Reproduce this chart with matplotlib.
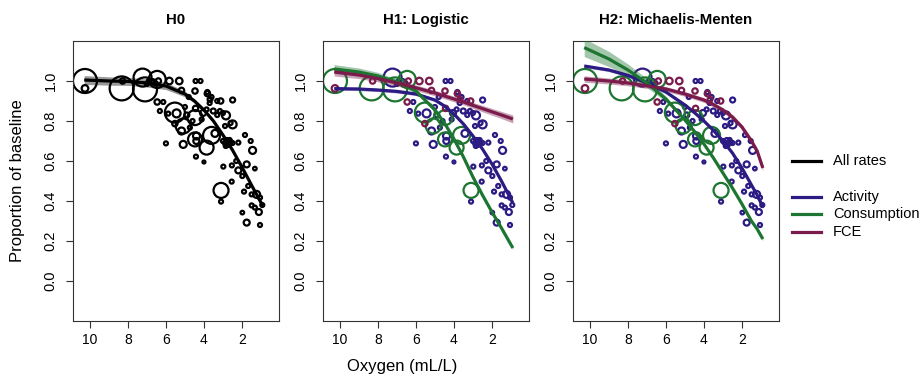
import numpy as np
import matplotlib
matplotlib.use("Agg")
import matplotlib.pyplot as plt
from matplotlib.lines import Line2D

plt.rcParams['font.family'] = ['Liberation Sans', 'DejaVu Sans']

# ── data ──
# Activity observations (oxygen, proportion, weight)
act_x = [7.23, 5.44, 5.18, 5.09, 4.39, 3.42, 2.84, 2.49, 2.49, 3.51, 1.44, 1.75, 2.19, 1.23,
         1.11, 1.75, 1.98, 1.32, 4.00, 4.40, 4.05, 4.90,
         6.90, 6.70, 6.55, 7.00, 4.44, 4.18, 3.82, 3.60, 3.30, 3.70, 3.86, 3.16, 4.12, 3.30,
         3.00, 5.88, 6.32, 6.14, 6.00, 4.74, 4.60, 5.00, 4.80, 4.42, 2.89, 2.60,
         3.00, 2.90, 2.80, 2.70, 2.60, 2.75, 2.85, 2.65, 2.50, 2.19, 1.84, 1.54,
         2.98, 2.53, 2.30, 1.98, 2.54, 3.10, 1.89, 1.67, 1.49, 1.05, 1.49, 1.32, 0.93, 1.05]
act_y = [1.017, 0.838, 0.750, 0.683, 0.725, 0.738, 0.828, 0.783, 0.905, 0.850, 0.653, 0.583,
         0.553, 0.433, 0.345, 0.292, 0.342, 0.562, 0.595, 0.700, 0.840, 0.830,
         1.000, 1.000, 0.990, 0.985, 1.000, 1.000, 0.945, 0.920, 0.900, 0.890, 0.858, 0.850,
         0.808, 0.830, 0.840, 0.837, 0.850, 0.895, 0.688, 0.767, 0.800, 0.870, 0.920, 0.622,
         0.775, 0.790,
         0.700, 0.690, 0.705, 0.690, 0.695, 0.680, 0.675, 0.705, 0.690, 0.692, 0.730, 0.700,
         0.572, 0.578, 0.600, 0.525, 0.497, 0.397, 0.447, 0.475, 0.433, 0.417, 0.378, 0.367,
         0.380, 0.280]
act_w = [9, 4, 3.5, 3.5, 3.5, 3.5, 4, 4, 2.5, 2.5, 3.5, 3, 3, 3.5,
         3, 3, 1.8, 1.8, 1.5, 3, 3, 2.5,
         2, 2, 2, 2, 2, 2, 2, 2, 2, 2, 2, 2, 2, 2,
         2, 2, 2, 2, 2, 2, 2, 2, 2, 2, 2, 2,
         2, 2, 2, 2, 2, 2, 2, 2, 2, 2, 2, 2,
         2, 2, 2, 2, 2, 2, 2, 2, 2, 2, 2, 2, 2, 2]

# Consumption observations
con_x = [10.26, 8.33, 7.10, 6.46, 5.53, 5.09, 4.47, 4.47, 3.60, 3.86, 3.10]
con_y = [1.000, 0.963, 0.958, 1.008, 0.842, 0.775, 0.817, 0.708, 0.728, 0.667, 0.453]
con_w = [12, 12, 12, 8.5, 10, 7.5, 7.5, 7, 8.5, 7, 7.5]

# FCE observations
fce_x = [10.26, 8.28, 6.40, 5.82, 5.30, 5.18, 4.47, 3.82, 3.68, 3.12, 6.46, 4.44, 5.53]
fce_y = [0.963, 1.000, 1.000, 1.000, 1.000, 0.953, 0.950, 0.937, 0.908, 0.900, 0.895,
         0.863, 0.787]
fce_w = [3.3, 2.7, 2.7, 3.3, 3.3, 2.7, 2.7, 2.7, 2.4, 2.7, 2.7, 2.7, 2.7]

# fitted curves (oxygen grid, fit, half-width of CI)
h0_x = [10.3, 9, 8, 7, 6, 5, 4.5, 4, 3.5, 3, 2.5, 2, 1.5, 0.9]
h0_y = [1.005, 1.0, 0.998, 0.99, 0.975, 0.935, 0.9, 0.855, 0.8, 0.73, 0.655, 0.57, 0.48, 0.375]
h0_ci = [0.022, 0.021, 0.02, 0.02, 0.018, 0.014, 0.01, 0.008, 0.006, 0.005, 0.005, 0.006, 0.007, 0.008]

h1_x = [10.3, 9, 8, 7, 6, 5, 4.5, 4, 3.5, 3, 2.5, 2, 1.5, 0.9]
h1_act = [0.962, 0.96, 0.955, 0.948, 0.935, 0.905, 0.875, 0.835, 0.785, 0.725, 0.66, 0.585, 0.5, 0.39]
h1_con = [1.06, 1.045, 1.025, 0.995, 0.95, 0.855, 0.79, 0.71, 0.62, 0.52, 0.43, 0.345, 0.265, 0.165]
h1_fce = [1.045, 1.03, 1.012, 0.99, 0.966, 0.94, 0.925, 0.91, 0.895, 0.878, 0.862, 0.846, 0.83, 0.81]
h1_act_ci = [0.008] * 14
h1_con_ci = [0.022, 0.02, 0.018, 0.014, 0.01, 0.006, 0.005, 0.005, 0.005, 0.005, 0.005, 0.006, 0.007, 0.008]
h1_fce_ci = [0.02, 0.018, 0.016, 0.015, 0.014, 0.014, 0.014, 0.014, 0.014, 0.015, 0.016, 0.017, 0.018, 0.02]

h2_x = [10.3, 9, 8, 7, 6, 5, 4.5, 4, 3.5, 3, 2.5, 2, 1.5, 1.2, 0.9]
h2_act = [1.075, 1.055, 1.028, 0.99, 0.945, 0.88, 0.842, 0.80, 0.753, 0.70, 0.64, 0.565, 0.48, 0.43, 0.37]
h2_con = [1.167, 1.11, 1.055, 0.99, 0.91, 0.805, 0.748, 0.685, 0.615, 0.54, 0.465, 0.385, 0.30, 0.26, 0.21]
h2_fce = [1.01, 1.0, 0.99, 0.976, 0.96, 0.935, 0.92, 0.905, 0.882, 0.855, 0.82, 0.77, 0.70, 0.65, 0.565]
h2_act_ci = [0.008] * 15
h2_con_ci = [0.045, 0.038, 0.03, 0.022, 0.014, 0.008, 0.006, 0.005, 0.005, 0.005, 0.005, 0.006, 0.007, 0.008, 0.009]
h2_fce_ci = [0.016, 0.015, 0.014, 0.013, 0.012, 0.012, 0.012, 0.012, 0.012, 0.012, 0.012, 0.013, 0.014, 0.015, 0.016]

TITLES = ["H0", "H1: Logistic", "H2: Michaelis-Menten"]
C_ACT, C_CON, C_FCE = "#2B1B82", "#1C7530", "#7A1B4B"
C_ALL = "black"

fig = plt.figure(figsize=(9.21, 3.82), dpi=100)
lefts = [73, 323, 573]
axes = [fig.add_axes([l / 921, 1 - 321 / 382, 206 / 921, 280 / 382]) for l in lefts]


def pts(ax, x, y, w, color):
    s = [2.07 * r ** 2 for r in w]
    ax.scatter(x, y, s=s, facecolors="none", edgecolors=color, linewidths=1.6, zorder=2)


def curve(ax, x, y, ci, color):
    x = np.array(x); y = np.array(y); ci = np.array(ci)
    ax.fill_between(x, y - ci, y + ci, color=color, alpha=0.4, lw=0, zorder=3)
    ax.plot(x, y, color=color, lw=2.3, zorder=4, solid_capstyle="butt")


# H0: everything black, one curve
ax = axes[0]
pts(ax, act_x, act_y, act_w, C_ALL)
pts(ax, con_x, con_y, con_w, C_ALL)
pts(ax, fce_x, fce_y, fce_w, C_ALL)
curve(ax, h0_x, h0_y, h0_ci, C_ALL)

# H1
ax = axes[1]
pts(ax, act_x, act_y, act_w, C_ACT)
pts(ax, con_x, con_y, con_w, C_CON)
pts(ax, fce_x, fce_y, fce_w, C_FCE)
curve(ax, h1_x, h1_act, h1_act_ci, C_ACT)
curve(ax, h1_x, h1_con, h1_con_ci, C_CON)
curve(ax, h1_x, h1_fce, h1_fce_ci, C_FCE)

# H2
ax = axes[2]
pts(ax, act_x, act_y, act_w, C_ACT)
pts(ax, con_x, con_y, con_w, C_CON)
pts(ax, fce_x, fce_y, fce_w, C_FCE)
curve(ax, h2_x, h2_act, h2_act_ci, C_ACT)
curve(ax, h2_x, h2_con, h2_con_ci, C_CON)
curve(ax, h2_x, h2_fce, h2_fce_ci, C_FCE)

for ax, t in zip(axes, TITLES):
    ax.set_xlim(10.89, 0.05)
    ax.set_ylim(-0.2, 1.2)
    ax.set_xticks([10, 8, 6, 4, 2])
    ax.set_xticklabels(["10", "8", "6", "4", "2"], fontsize=10)
    ax.set_yticks([0, 0.2, 0.4, 0.6, 0.8, 1.0])
    ax.set_yticklabels(["0.0", "0.2", "0.4", "0.6", "0.8", "1.0"], fontsize=10.5,
                       rotation=90, va="center")
    ax.tick_params(direction="out", length=5, width=0.8, color="#333333")
    ax.tick_params(axis="y", pad=6)
    ax.tick_params(axis="x", pad=3.5)
    for sp in ax.spines.values():
        sp.set_linewidth(0.8)
        sp.set_color("#333333")
    ax.set_title(t, fontsize=10.8, fontweight="bold", pad=12)

fig.text(402 / 921, 1 - 367 / 382, "Oxygen (mL/L)", ha="center", va="center", fontsize=12)
fig.text(18 / 921, 1 - 181 / 382, "Proportion of baseline", ha="center", va="center",
         rotation=90, fontsize=12)

# legend
leg_labels = ["All rates", "Activity", "Consumption", "FCE"]
leg_colors = [C_ALL, C_ACT, C_CON, C_FCE]
leg_rows = [161, 197, 214, 232]
for lab, col, yy in zip(leg_labels, leg_colors, leg_rows):
    fy = 1 - yy / 382
    fig.add_artist(Line2D([792 / 921, 821 / 921], [fy, fy], color=col, lw=2.3,
                          transform=fig.transFigure))
    fig.text(833 / 921, fy, lab, ha="left", va="center", fontsize=10.5)

fig.savefig("out.png", dpi=100)
